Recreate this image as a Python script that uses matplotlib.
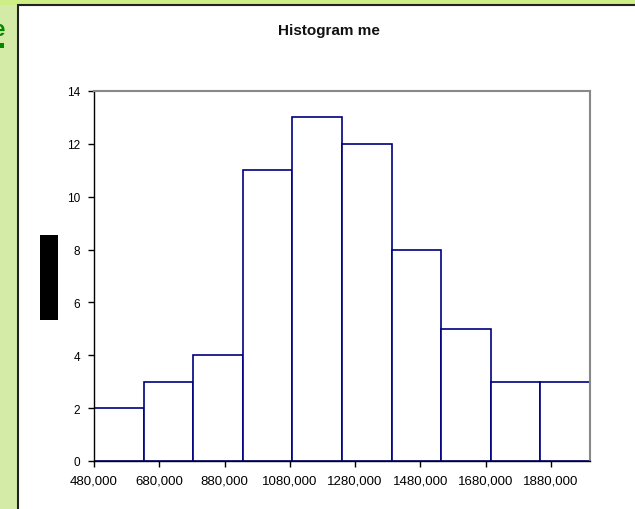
import numpy as np
import matplotlib.pyplot as plt
from matplotlib.patches import Rectangle

plt.rcParams['font.family'] = ['Liberation Sans', 'DejaVu Sans']

# histogram data
bin_start = 480000
bin_width = 152000
counts = [2, 3, 4, 11, 13, 12, 8, 5, 3, 3]
xticks = [480000, 680000, 880000, 1080000, 1280000, 1480000, 1680000, 1880000]
xticklabels = ['480,000', '680,000', '880,000', '1080,000', '1280,000',
               '1480,000', '1680,000', '1880,000']
yticks = [0, 2, 4, 6, 8, 10, 12, 14]

W, H = 635, 510
fig = plt.figure(figsize=(6.35, 5.1), dpi=100)
fig.patch.set_facecolor('#d3eba6')

# top strip, a bit brighter
fig.patches.append(Rectangle((0, 1 - 6 / H), 1, 6 / H, transform=fig.transFigure,
                             facecolor='#cdef86', edgecolor='none', zorder=0))
# white chart area with dark border
fig.patches.append(Rectangle((18 / W, -0.01), 1, 1 - 6 / H + 0.01, transform=fig.transFigure,
                             facecolor='white', edgecolor='#222222', lw=1.5, zorder=1))
# black box left of the axis
fig.patches.append(Rectangle((40 / W, 1 - 321 / H), 18 / W, 85 / H, transform=fig.transFigure,
                             facecolor='black', edgecolor='none', zorder=2))
# cut-off green text at the very left
fig.text(-8 / W, 1 - 30 / H, 'e', color='#008800', fontsize=16, fontweight='bold',
         va='center', ha='left', zorder=2)
fig.patches.append(Rectangle((0, 1 - 49 / H), 4 / W, 5 / H, transform=fig.transFigure,
                             facecolor='#008800', edgecolor='none', zorder=2))

ax = fig.add_axes([94 / W, 1 - 462 / H, 496 / W, 370 / H], zorder=3)
ax.set_facecolor('white')

edges = bin_start + bin_width * np.arange(len(counts))
ax.bar(edges, counts, width=bin_width, align='edge', facecolor='white',
       edgecolor='#000080', linewidth=1.2)

ax.set_xlim(bin_start, bin_start + bin_width * len(counts))
ax.set_ylim(0, 14)
ax.set_xticks(xticks)
ax.set_xticklabels(xticklabels, fontsize=9.5)
ax.set_yticks(yticks)
ax.set_yticklabels([str(v) for v in yticks], fontsize=8.5)
ax.tick_params(axis='both', direction='out', length=4, width=1, color='black')
ax.tick_params(axis='x', pad=6)
ax.tick_params(axis='y', pad=6)

for side in ['top', 'right']:
    ax.spines[side].set_color('#888888')
    ax.spines[side].set_linewidth(1.5)
for side in ['left', 'bottom']:
    ax.spines[side].set_color('black')
    ax.spines[side].set_linewidth(1)

fig.text(329 / W, 1 - 31 / H, 'Histogram me', fontsize=11, fontweight='bold',
         ha='center', va='center', color='#111111', zorder=4)

fig.savefig('out.png', dpi=100, facecolor=fig.get_facecolor())
